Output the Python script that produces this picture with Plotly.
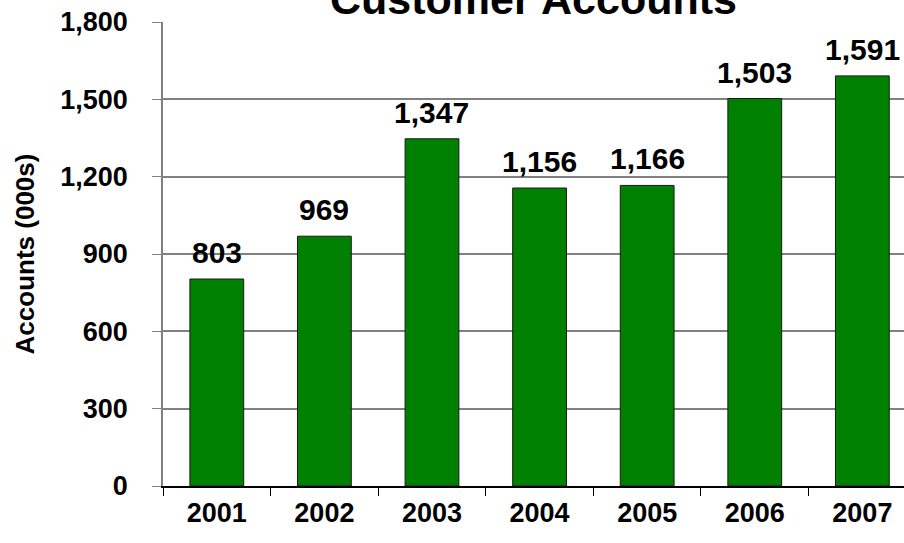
import plotly.graph_objects as go

years = ["2001", "2002", "2003", "2004", "2005", "2006", "2007"]
accounts = [803, 969, 1347, 1156, 1166, 1503, 1591]
y_ticks = [0, 300, 600, 900, 1200, 1500, 1800]

font_fam = "Arial, Liberation Sans, sans-serif"

fig = go.Figure()
fig.add_trace(go.Bar(
    x=years, y=accounts,
    marker=dict(color="#008000", line=dict(color="#1a1a1a", width=1)),
    hoverinfo="skip",
))

# value labels above each bar (x as category index so "2001" is not read as a number)
for i, v in enumerate(accounts):
    fig.add_annotation(
        x=i, y=v, xref="x", yref="y", text="<b>{:,}</b>".format(v),
        showarrow=False, yanchor="bottom", yshift=8,
        font=dict(family=font_fam, size=30, color="black"),
    )

fig.update_layout(
    width=904, height=543,
    margin=dict(l=163, r=0, t=22, b=57),
    paper_bgcolor="white", plot_bgcolor="white",
    bargap=0.5,
    showlegend=False,
    title=dict(
        text="<b>Customer Accounts</b>",
        x=0.5, xref="paper", xanchor="center",
        y=0.974, yref="container", yanchor="bottom",
        font=dict(family=font_fam, size=43, color="black"),
    ),
    font=dict(family=font_fam, color="black"),
)

fig.update_xaxes(
    type="category",
    range=[-0.5, 6.387],
    automargin=False,
    showline=True, linecolor="black", linewidth=1.5,
    ticks="outside", tickson="boundaries", ticklen=8, tickcolor="black", tickwidth=1,
    tickfont=dict(family=font_fam, size=27, color="black", weight="bold"),
    ticklabelstandoff=2,
    showgrid=False, zeroline=False,
)

fig.update_yaxes(
    range=[0, 1800],
    automargin=False,
    tickvals=y_ticks,
    ticktext=["{:,}".format(t) for t in y_ticks],
    showline=True, linecolor="#808080", linewidth=1.5,
    ticks="outside", ticklen=9, tickcolor="#808080", tickwidth=1,
    tickfont=dict(family=font_fam, size=27, color="black", weight="bold"),
    ticklabelstandoff=19,
    showgrid=True, gridcolor="#808080", gridwidth=1.5,
    zeroline=False,
    title=dict(text="<b>Accounts (000s)</b>", standoff=18,
               font=dict(family=font_fam, size=26, color="black")),
)

# drop the browser's default page margin so the chart sits at the window corner
fig.write_html("out.html", config={"displayModeBar": False},
               post_script="document.body.style.margin = '0';")
